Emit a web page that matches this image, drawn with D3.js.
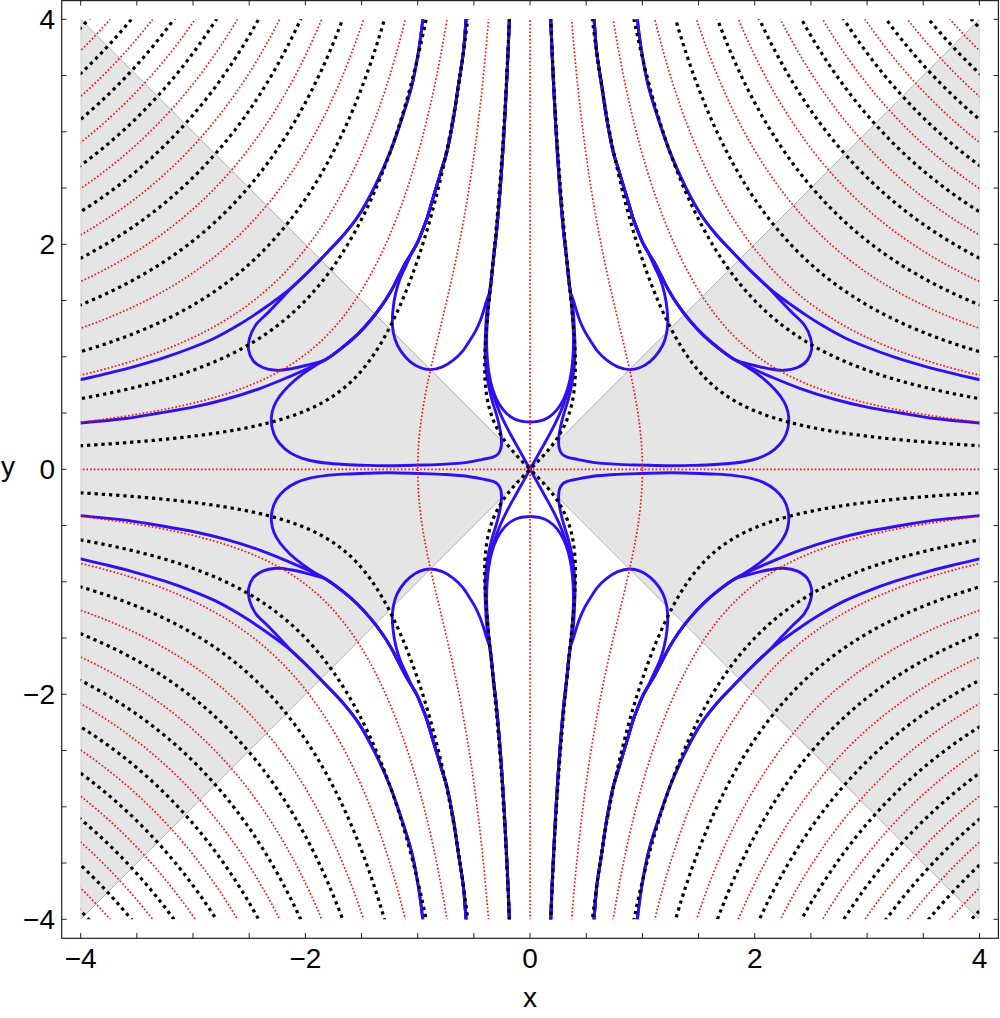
<!DOCTYPE html>
<html><head><meta charset="utf-8">
<script src="https://cdn.jsdelivr.net/npm/d3@7"></script>
<style>body{margin:0;background:#fff}svg{display:block}</style>
</head><body>
<svg id="c" width="1000" height="1018"></svg>
<script>
// ---------------- data ----------------
const majorTicks = [-4, -2, 0, 2, 4];
const tickLabels = ["\u22124", "\u22122", "0", "2", "4"];
const minorTicks = [-4, -3.5, -3, -2.5, -2, -1.5, -1, -0.5, 0, 0.5, 1, 1.5, 2, 2.5, 3, 3.5, 4];
const grayWedges = [[[-4, 4], [0, 0], [-4, -4]], [[4, 4], [0, 0], [4, -4]]];
// phase contours of f(z) = z e^{-z^2/2}: red = arg f multiple of pi/2, black = odd multiple of pi/4
const redLevels = [0];   // zero set of sin(2 arg f)
const blackLevels = [0]; // zero set of cos(2 arg f)

// blue curves, upper-left quadrant (mirrored into the other three)
const bundleC = [[-0.358,1.58],[-0.345,1.68],[-0.328,1.85],[-0.305,2.05],[-0.288,2.222],[-0.265,2.5],[-0.243,2.815],[-0.226,3.1],[-0.21,3.407],[-0.196,3.7],[-0.184,4.0],[-0.18,4.1]];
const bundleB = [[-1.0,2.02],[-0.955,2.13],[-0.92,2.222],[-0.876,2.37],[-0.831,2.518],[-0.786,2.67],[-0.742,2.815],[-0.683,3.111],[-0.639,3.407],[-0.594,3.704],[-0.57,4.0],[-0.562,4.1]];
const bundleA = [[-2.117,1.62],[-2.0,1.73],[-1.88,1.85],[-1.775,1.96],[-1.68,2.06],[-1.529,2.252],[-1.38,2.518],[-1.247,2.815],[-1.143,3.111],[-1.053,3.407],[-0.995,3.704],[-0.955,4.0],[-0.945,4.1]];
const mergeBundle = [[-1.82,0.975],[-1.68,1.075],[-1.54,1.195],[-1.42,1.325],[-1.32,1.455],[-1.235,1.59],[-1.165,1.725],[-1.105,1.84],[-1.05,1.93]];
const xArm = [[0,0],[-0.07,0.125],[-0.14,0.25],[-0.205,0.37],[-0.265,0.495],[-0.315,0.625],[-0.355,0.765],[-0.38,0.915],[-0.392,1.07],[-0.388,1.25],[-0.375,1.43]];
const uHalf = [[0,0.42],[-0.09,0.43],[-0.17,0.465],[-0.24,0.53],[-0.297,0.62],[-0.34,0.735],[-0.368,0.87],[-0.383,1.02],[-0.386,1.2],[-0.374,1.4]];
const bigLoop = [[-0.385,1.4],[-0.396,1.22],[-0.4,1.05],[-0.392,0.9],[-0.372,0.76],[-0.34,0.62],[-0.3,0.49],[-0.27,0.37],[-0.255,0.27],[-0.26,0.185],[-0.285,0.135],[-0.33,0.108],[-0.42,0.088],[-0.56,0.062],[-0.75,0.046],[-1.0,0.037],[-1.25,0.031],[-1.45,0.035],[-1.65,0.043],[-1.82,0.056],[-1.96,0.078],[-2.08,0.118],[-2.18,0.18],[-2.255,0.265],[-2.295,0.365],[-2.302,0.465],[-2.278,0.565],[-2.225,0.655],[-2.14,0.75],[-2.02,0.85],[-1.9,0.93]];
const lineL04 = [[-4.05,0.405],[-4,0.412],[-3.6,0.452],[-3.3,0.5],[-3.0,0.553],[-2.7,0.625],[-2.4,0.72],[-2.15,0.82],[-1.97,0.9]];
const lineL08 = [[-4.05,0.785],[-4,0.797],[-3.75,0.855],[-3.5,0.92],[-3.25,0.995],[-3.0,1.085],[-2.8,1.17],[-2.6,1.28],[-2.45,1.375],[-2.32,1.465],[-2.21,1.545]];
const petalArc = [[-2.22,1.51],[-2.33,1.395],[-2.44,1.285],[-2.497,1.165],[-2.505,1.06],[-2.465,0.965],[-2.38,0.905],[-2.26,0.88],[-2.13,0.893],[-1.99,0.925]];
const loop89 = [[-1.05,1.93],[-1.10,1.82],[-1.155,1.7],[-1.195,1.57],[-1.22,1.42],[-1.225,1.28],[-1.20,1.15],[-1.15,1.05],[-1.07,0.96],[-0.98,0.905],[-0.886,0.886],[-0.78,0.91],[-0.683,0.97],[-0.6,1.05],[-0.535,1.147],[-0.48,1.24],[-0.44,1.33],[-0.413,1.41],[-0.392,1.48],[-0.372,1.54]];

const rev = a => a.slice().reverse();
const blueCurves = [
  xArm.concat(bundleC),
  uHalf.concat(bundleC),
  rev(bundleC).concat(bigLoop, mergeBundle, bundleB),
  lineL04.concat(mergeBundle, bundleB),
  lineL08.concat(bundleA),
  rev(bundleA).concat(petalArc, mergeBundle, bundleB),
  rev(bundleB).concat(loop89, bundleC)
];
const mirrors = [[1,1],[-1,1],[1,-1],[-1,-1]];

// ---------------- layout ----------------
const svg = d3.select("#c");
const x = d3.scaleLinear().domain([-4.169, 4.169]).range([61.7, 998.4]);
const y = d3.scaleLinear().domain([-4.169, 4.169]).range([938.3, 0.3]);
const font = "'Liberation Sans', Arial, sans-serif";

svg.append("defs").append("clipPath").attr("id","plot")
  .append("rect").attr("x", x(-4)).attr("y", y(4))
  .attr("width", x(4)-x(-4)).attr("height", y(-4)-y(4));

const plot = svg.append("g").attr("clip-path","url(#plot)");

// gray wedges
plot.selectAll("path.wedge").data(grayWedges).join("path")
  .attr("d", d => "M" + d.map(p => [x(p[0]), y(p[1])].join(",")).join("L") + "Z")
  .attr("fill", "#e5e5e5").attr("stroke", "#b0b0b0").attr("stroke-width", 1);

// phase field grid
const h = 0.0125, g0 = -4.10625, n = 658;
const redVals = new Float64Array(n*n), blackVals = new Float64Array(n*n);
for (let j = 0; j < n; j++) {
  const yy = -g0 - j*h;
  for (let i = 0; i < n; i++) {
    const xx = g0 + i*h;
    const ph = 2*Math.atan2(yy, xx) - 2*xx*yy;
    redVals[j*n+i] = Math.sin(ph);
    blackVals[j*n+i] = Math.cos(ph);
  }
}
const proj = d3.geoTransform({point(gx, gy){ this.stream.point(x(g0 + (gx-0.5)*h), y(-g0 - (gy-0.5)*h)); }});
const gpath = d3.geoPath(proj);
const redC = d3.contours().size([n,n]).thresholds(redLevels)(redVals);
const blackC = d3.contours().size([n,n]).thresholds(blackLevels)(blackVals);

// blue
const line = d3.line().x(d => x(d[0])).y(d => y(d[1])).curve(d3.curveCatmullRom.alpha(0.5));
const gBlue = plot.append("g");
mirrors.forEach(m => {
  blueCurves.forEach(c => {
    gBlue.append("path").attr("d", line(c.map(p => [p[0]*m[0], p[1]*m[1]])))
      .attr("fill","none").attr("stroke","#3010f0").attr("stroke-width",2.9)
      .attr("stroke-linejoin","round");
  });
});

plot.selectAll("path.red").data(redC).join("path").attr("class","red")
  .attr("d", gpath).attr("fill","none").attr("stroke","#ff0a0a")
  .attr("stroke-width",1.7).attr("stroke-dasharray","1.6 2.1");
plot.selectAll("path.black").data(blackC).join("path").attr("class","black")
  .attr("d", gpath).attr("fill","none").attr("stroke","#000")
  .attr("stroke-width",3.2).attr("stroke-dasharray","3.3 3.9");

// frame
svg.append("rect").attr("x", 61.7).attr("y", 0.6).attr("width", 998.4-61.7).attr("height", 938.3-0.6)
  .attr("fill","none").attr("stroke","#222").attr("stroke-width",1.2);
const tk = svg.append("g").attr("stroke","#222").attr("stroke-width",1);
minorTicks.forEach(v => {
  tk.append("line").attr("x1",x(v)).attr("x2",x(v)).attr("y1",938.3).attr("y2",933);
  tk.append("line").attr("x1",x(v)).attr("x2",x(v)).attr("y1",0.6).attr("y2",5.5);
  tk.append("line").attr("y1",y(v)).attr("y2",y(v)).attr("x1",61.7).attr("x2",66.5);
  tk.append("line").attr("y1",y(v)).attr("y2",y(v)).attr("x1",998.4).attr("x2",993.5);
});
majorTicks.forEach((v,i) => {
  svg.append("text").attr("x", x(v)).attr("y", 968).attr("text-anchor","middle")
    .attr("font-family",font).attr("font-size",28).text(tickLabels[i]);
  svg.append("text").attr("x", 55).attr("y", y(v)+10).attr("text-anchor","end")
    .attr("font-family",font).attr("font-size",28).text(tickLabels[i]);
});
svg.append("text").attr("x", 530).attr("y", 1007).attr("text-anchor","middle")
  .attr("font-family",font).attr("font-size",28).text("x");
svg.append("text").attr("x", 8).attr("y", 476).attr("text-anchor","middle")
  .attr("font-family",font).attr("font-size",28).text("y");
</script>
</body></html>
